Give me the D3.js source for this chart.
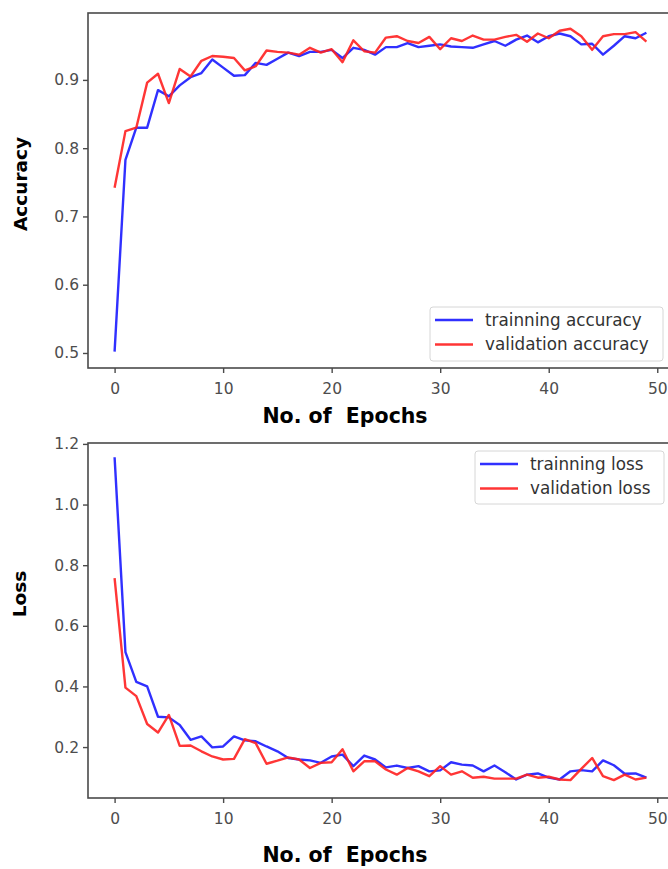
<!DOCTYPE html>
<html>
<head>
<meta charset="utf-8">
<script src="https://cdn.jsdelivr.net/npm/d3@7"></script>
<style>
  html, body { margin: 0; padding: 0; background: #fff; }
  svg { display: block; }
</style>
</head>
<body>
<svg id="chart" width="668" height="869"></svg>
<script>
const epochs = d3.range(0, 50);
const xTicks = [0, 10, 20, 30, 40, 50];
const accTicks = [0.5, 0.6, 0.7, 0.8, 0.9];
const lossTicks = [0.2, 0.4, 0.6, 0.8, 1.0, 1.2];

const trainAcc = [0.502, 0.783, 0.830, 0.830, 0.885, 0.876, 0.892, 0.904, 0.910, 0.930,
  0.918, 0.906, 0.907, 0.925, 0.922, 0.931, 0.940, 0.935, 0.941, 0.941,
  0.944, 0.932, 0.947, 0.944, 0.937, 0.948, 0.948, 0.954, 0.948, 0.950,
  0.952, 0.949, 0.948, 0.947, 0.952, 0.957, 0.950, 0.959, 0.965, 0.955,
  0.964, 0.968, 0.964, 0.952, 0.953, 0.937, 0.950, 0.964, 0.961, 0.969];
const valAcc = [0.742, 0.825, 0.830, 0.896, 0.909, 0.866, 0.916, 0.905, 0.928, 0.935,
  0.934, 0.932, 0.914, 0.920, 0.943, 0.941, 0.940, 0.937, 0.947, 0.940,
  0.945, 0.926, 0.958, 0.942, 0.940, 0.962, 0.964, 0.957, 0.954, 0.963,
  0.945, 0.961, 0.957, 0.965, 0.959, 0.959, 0.963, 0.966, 0.956, 0.968,
  0.961, 0.972, 0.975, 0.964, 0.944, 0.964, 0.967, 0.967, 0.970, 0.956];
const trainLoss = [1.156, 0.513, 0.415, 0.400, 0.300, 0.298, 0.273, 0.224, 0.235, 0.199,
  0.202, 0.235, 0.222, 0.219, 0.202, 0.186, 0.164, 0.159, 0.156, 0.148,
  0.169, 0.175, 0.137, 0.172, 0.159, 0.133, 0.139, 0.131, 0.137, 0.120,
  0.123, 0.150, 0.142, 0.139, 0.120, 0.139, 0.117, 0.093, 0.109, 0.113,
  0.099, 0.093, 0.120, 0.124, 0.120, 0.156, 0.140, 0.112, 0.113, 0.099];
const valLoss = [0.757, 0.396, 0.368, 0.276, 0.248, 0.306, 0.204, 0.205, 0.186, 0.169,
  0.159, 0.161, 0.226, 0.213, 0.145, 0.155, 0.166, 0.159, 0.131, 0.148,
  0.150, 0.193, 0.120, 0.153, 0.153, 0.126, 0.109, 0.131, 0.120, 0.104,
  0.137, 0.109, 0.120, 0.099, 0.102, 0.096, 0.096, 0.096, 0.109, 0.099,
  0.102, 0.093, 0.091, 0.128, 0.164, 0.104, 0.091, 0.109, 0.093, 0.099];

const svg = d3.select("#chart");
const TRAIN = "#1a1aff", VAL = "#ff2020";
const axisColor = "#4a4a4a", tickText = "#4d4d4d";

function panel(opts) {
  const { top, bottom, yDomain, yTicks, yFmt, series, legend, yTitle, yTitlePos, xTitleY } = opts;
  const x = d3.scaleLinear().domain([-2.45, 51.45]).range([88, 673]);
  const y = d3.scaleLinear().domain(yDomain).range([bottom, top]);
  const g = svg.append("g");

  g.append("rect").attr("x", 88).attr("y", top).attr("width", 673 - 88).attr("height", bottom - top)
    .attr("fill", "none").attr("stroke", axisColor).attr("stroke-width", 1.6);

  const xa = g.append("g").attr("transform", `translate(0,${bottom})`)
    .call(d3.axisBottom(x).tickValues(xTicks).tickFormat(d3.format("d")).tickSize(5).tickPadding(6));
  const ya = g.append("g").attr("transform", `translate(88,0)`)
    .call(d3.axisLeft(y).tickValues(yTicks).tickFormat(yFmt).tickSize(5).tickPadding(4));
  [xa, ya].forEach(a => {
    a.select(".domain").remove();
    a.selectAll("line").attr("stroke", axisColor).attr("stroke-width", 1.4);
    a.selectAll("text").attr("fill", tickText).style("font-family", "'DejaVu Sans', sans-serif").style("font-size", "15.5px");
  });
  xa.selectAll("text").attr("dy", "0.95em");

  const line = d3.line().x((d, i) => x(epochs[i])).y(d => y(d));
  series.forEach(s => {
    g.append("path").datum(s.values).attr("d", line).attr("fill", "none")
      .attr("stroke", s.color).attr("stroke-width", 2.4).attr("stroke-linejoin", "round").attr("opacity", 0.9);
  });

  const lg = g.append("g");
  lg.append("rect").attr("x", legend.x).attr("y", legend.y).attr("width", legend.w).attr("height", legend.h)
    .attr("rx", 3).attr("fill", "#fff").attr("fill-opacity", 0.85).attr("stroke", "#d6d6d6").attr("stroke-width", 1);
  series.forEach((s, i) => {
    const ly = legend.y + 13 + i * 24.5;
    lg.append("line").attr("x1", legend.x + 5).attr("x2", legend.x + 43).attr("y1", ly).attr("y2", ly)
      .attr("stroke", s.color).attr("stroke-width", 2.4).attr("opacity", 0.9);
    lg.append("text").attr("x", legend.x + 55).attr("y", ly).attr("dy", "0.35em")
      .attr("fill", "#333").style("font-family", "'DejaVu Sans', sans-serif").style("font-size", "16.8px")
      .text(s.name);
  });

  g.append("text").attr("transform", `translate(${yTitlePos[0]},${yTitlePos[1]}) rotate(-90)`)
    .attr("text-anchor", "middle").attr("dy", "0.35em")
    .style("font-family", "'DejaVu Sans', sans-serif").style("font-weight", "bold").style("font-size", "18.5px")
    .attr("fill", "#000").text(yTitle);
  g.append("text").attr("x", 345).attr("y", xTitleY).attr("text-anchor", "middle")
    .style("font-family", "'DejaVu Sans', sans-serif").style("font-weight", "bold").style("font-size", "20.5px")
    .style("white-space", "pre").attr("xml:space", "preserve")
    .attr("fill", "#000").text("No. of  Epochs");
}

panel({
  top: 13, bottom: 368, yDomain: [0.478, 0.998], yTicks: accTicks, yFmt: d3.format(".1f"),
  series: [{ name: "trainning accuracy", values: trainAcc, color: TRAIN },
           { name: "validation accuracy", values: valAcc, color: VAL }],
  legend: { x: 430, y: 307, w: 233, h: 54 },
  yTitle: "Accuracy", yTitlePos: [21, 184], xTitleY: 423
});

panel({
  top: 443, bottom: 798, yDomain: [0.032, 1.203], yTicks: lossTicks, yFmt: d3.format(".1f"),
  series: [{ name: "trainning loss", values: trainLoss, color: TRAIN },
           { name: "validation loss", values: valLoss, color: VAL }],
  legend: { x: 475, y: 451, w: 189, h: 53 },
  yTitle: "Loss", yTitlePos: [20, 594], xTitleY: 862
});
</script>
</body>
</html>
